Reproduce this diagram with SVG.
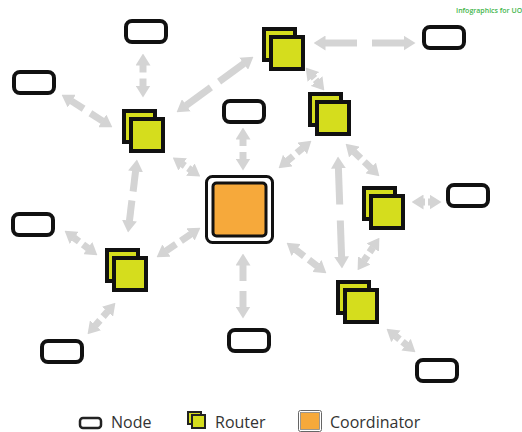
<svg xmlns="http://www.w3.org/2000/svg" xmlns:xlink="http://www.w3.org/1999/xlink" width="522" height="432" viewBox="0 0 522 432">
<style>
.node{fill:#fff;stroke:#111;stroke-width:4}
.rt{fill:#d5dd1d;stroke:#111;stroke-width:4}
.c path{fill:none;stroke:#d4d4d4;stroke-width:7;marker-end:url(#ah)}
.lbl{font-family:"Open Sans","Liberation Sans",sans-serif;font-size:16px;fill:#333}
</style>
<defs>
<marker id="ah" markerUnits="userSpaceOnUse" markerWidth="12" markerHeight="15" viewBox="0 0 12 15" refX="0.5" refY="7.5" orient="auto">
<path d="M0,0 L12,7.5 L0,15 Z" fill="#d4d4d4"/>
</marker>
<g id="router">
<rect class="rt" x="0" y="0" width="31" height="31"/>
<rect class="rt" x="7" y="8" width="32" height="32"/>
</g>
<rect id="nodebox" class="node" x="0" y="0" width="40" height="21" rx="6"/>
</defs>
<rect width="522" height="432" fill="#fff"/>
<text x="456" y="13" font-family="'Open Sans','Liberation Sans',sans-serif" font-size="7" font-weight="600" fill="#3fb54c">Infographics for UO</text>

<g id="connectors" class="c">
<path d="M143,72.5 L143,65"/><path d="M143,78.5 L143,86"/>
<path d="M83.6,108.8 L71.3,100.9"/><path d="M90.4,113.2 L102.7,121.1"/>
<path d="M210.9,87.4 L185.9,105.6"/><path d="M219.1,81.6 L244.1,63.4"/>
<path d="M184.8,165.9 L182.2,164.1"/><path d="M188.2,168.1 L190.8,169.9"/>
<path d="M133.1,191.5 L135.6,170.9"/><path d="M131.9,200.5 L129.4,221.1"/>
<path d="M243,146 L243,139"/><path d="M243,152 L243,159"/>
<path d="M357,43 L325,43"/><path d="M372,43 L404,43"/>
<path d="M314.4,78.2 L313,76.5"/><path d="M315.6,79.8 L317,81.5"/>
<path d="M296.9,152.9 L302.6,148.1"/><path d="M293.1,156.1 L287.4,160.9"/>
<path d="M360.7,158.3 L353.9,151.7"/><path d="M364.3,161.7 L371.1,168.3"/>
<path d="M339.7,204.5 L338.4,168"/><path d="M340.3,220.5 L341.6,257"/>
<path d="M425,202 L423,202"/><path d="M428,202 L430,202"/>
<path d="M369.6,252.3 L373,247.2"/><path d="M367.4,255.7 L364,260.8"/>
<path d="M304.1,256.2 L295.7,249.7"/><path d="M308.9,259.8 L317.3,266.3"/>
<path d="M399.5,339.2 L395.5,336"/><path d="M402.5,341.8 L406.5,345"/>
<path d="M243,281 L243,265"/><path d="M243,291 L243,307"/>
<path d="M181,240.8 L190.9,234.1"/><path d="M176,244.2 L166.1,250.9"/>
<path d="M79,241.5 L73.8,237.6"/><path d="M83,244.5 L88.2,248.4"/>
<path d="M103.1,316.6 L107.8,311.3"/><path d="M99.9,320.4 L95.2,325.7"/>
</g>

<g id="coordinator">
<rect x="206.5" y="176.5" width="66" height="66" rx="6" fill="#fff" stroke="#111" stroke-width="3"/>
<rect x="213" y="183" width="53" height="53" rx="3.5" fill="#f6a93b" stroke="#111" stroke-width="3"/>
</g>

<g id="router1"><use xlink:href="#router" x="124" y="111"/></g>
<g id="router2"><use xlink:href="#router" x="264" y="29"/></g>
<g id="router3"><use xlink:href="#router" x="310" y="94"/></g>
<g id="router4"><use xlink:href="#router" x="364" y="188"/></g>
<g id="router5"><use xlink:href="#router" x="107" y="250"/></g>
<g id="router6"><use xlink:href="#router" x="338" y="282"/></g>

<g id="node1"><use xlink:href="#nodebox" x="126" y="21"/></g>
<g id="node2"><use xlink:href="#nodebox" x="14" y="72"/></g>
<g id="node3"><use xlink:href="#nodebox" x="224" y="101"/></g>
<g id="node4"><use xlink:href="#nodebox" x="424" y="27"/></g>
<g id="node5"><use xlink:href="#nodebox" x="448" y="185"/></g>
<g id="node6"><use xlink:href="#nodebox" x="13" y="214"/></g>
<g id="node7"><use xlink:href="#nodebox" x="42" y="341"/></g>
<g id="node8"><use xlink:href="#nodebox" x="229" y="330"/></g>
<g id="node9"><use xlink:href="#nodebox" x="417" y="360"/></g>

<g id="legend">
<rect x="80" y="418" width="21" height="10" rx="3" fill="#fff" stroke="#222" stroke-width="2.5"/>
<text class="lbl" x="111" y="428">Node</text>
<rect x="188" y="412" width="13" height="12" fill="#d5dd1d" stroke="#222" stroke-width="2"/>
<rect x="192" y="415" width="13" height="13" fill="#d5dd1d" stroke="#222" stroke-width="2"/>
<text class="lbl" x="215" y="428">Router</text>
<rect x="298.5" y="410.5" width="23" height="21" rx="2" fill="#fff" stroke="#666" stroke-width="1"/>
<rect x="300.5" y="412.5" width="19" height="17" fill="#f6a93b" stroke="#888" stroke-width="0.8"/>
<text class="lbl" x="330" y="428">Coordinator</text>
</g>
</svg>
